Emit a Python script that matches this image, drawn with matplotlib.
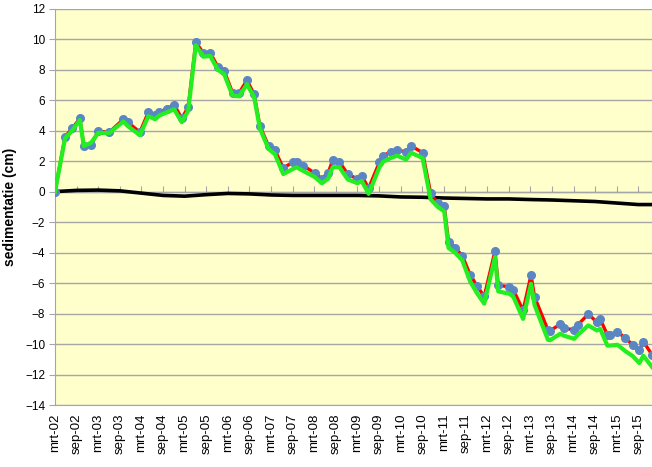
import numpy as np
import matplotlib
matplotlib.use('Agg')
import matplotlib.pyplot as plt

# maanden sinds mrt-02
maanden = [0, 2.8, 4.8, 6.9, 8.0, 10.0, 12.0, 15.1, 19.0, 20.2,
           23.6, 25.9, 27.8, 29.0, 31.1, 33.1, 35.2, 37.0, 39.1, 41.2,
           43.1, 45.2, 47.0, 49.3, 51.2, 53.3, 55.3, 56.9, 59.3, 61.1,
           63.4, 66.2, 67.1, 69.0, 72.2, 74.1, 75.9, 77.1, 79.0, 81.3,
           84.0, 85.2, 87.1, 90.1, 91.2, 93.2, 95.0, 97.5, 98.9, 102.1,
           104.3, 106.3, 108.1, 109.3, 111.1, 113.1, 115.3, 117.3, 119.2, 122.2,
           123.1, 126.2, 127.3, 130.0, 132.2, 133.2, 136.9, 137.5, 140.3, 141.3,
           144.2, 145.2, 148.1, 150.5, 151.4, 153.4, 154.2, 156.2, 158.3, 160.5,
           162.3, 163.4, 165.8]

sed_rood = [0.0, 3.6, 4.15, 4.8, 3.0, 3.05, 3.95, 3.9, 4.75, 4.55,
            3.9, 5.2, 5.0, 5.2, 5.45, 5.7, 4.8, 5.55, 9.8, 9.1,
            9.1, 8.2, 7.9, 6.5, 6.5, 7.3, 6.4, 4.3, 3.0, 2.7,
            1.55, 1.95, 1.95, 1.7, 1.2, 0.85, 1.25, 2.05, 1.95, 1.15,
            0.83, 1.03, 0.22, 1.93, 2.36, 2.6, 2.75, 2.58, 3.0, 2.55,
            -0.08, -0.78, -0.96, -3.3, -3.68, -4.2, -5.46, -6.22, -6.88, -3.9,
            -6.14, -6.25, -6.45, -7.8, -5.48, -6.92, -9.08, -9.13, -8.7, -8.96,
            -9.07, -8.74, -8.04, -8.56, -8.35, -9.4, -9.4, -9.18, -9.61, -10.05,
            -10.38, -9.84, -10.7]

sed_groen = [0.0, 3.5, 4.0, 4.7, 3.0, 3.2, 3.85, 3.85, 4.6, 4.3,
             3.7, 4.95, 4.75, 5.0, 5.2, 5.4, 4.55, 5.3, 9.6, 8.85,
             8.9, 8.0, 7.7, 6.3, 6.25, 7.05, 6.2, 4.15, 2.8, 2.45,
             1.15, 1.5, 1.6, 1.35, 0.95, 0.55, 0.85, 1.6, 1.6, 0.8,
             0.55, 0.7, -0.15, 1.6, 1.97, 2.2, 2.36, 2.1, 2.55, 2.2,
             -0.5, -1.0, -1.3, -3.7, -4.0, -4.5, -5.9, -6.7, -7.35, -4.3,
             -6.55, -6.7, -6.9, -8.35, -6.05, -7.45, -9.72, -9.75, -9.33, -9.45,
             -9.66, -9.4, -8.78, -9.11, -9.0, -10.1, -10.1, -10.05, -10.45, -10.8,
             -11.25, -10.77, -11.5]

maanden_zwart = [0, 6, 12, 18, 24, 30, 36, 42, 48, 54, 60, 66, 72, 78, 84,
                 90, 96, 102, 108, 114, 120, 126, 132, 138, 144, 150, 156, 162, 166]
sed_zwart = [0.0, 0.08, 0.1, 0.05, -0.1, -0.25, -0.3, -0.2, -0.12, -0.15,
             -0.22, -0.25, -0.25, -0.25, -0.25, -0.28, -0.35, -0.37, -0.42, -0.45,
             -0.48, -0.48, -0.52, -0.55, -0.6, -0.65, -0.75, -0.85, -0.85]

tick_labels = ['mrt-02', 'sep-02', 'mrt-03', 'sep-03', 'mrt-04', 'sep-04', 'mrt-05',
               'sep-05', 'mrt-06', 'sep-06', 'mrt-07', 'sep-07', 'mrt-08', 'sep-08',
               'mrt-09', 'sep-09', 'mrt-10', 'sep-10', 'mrt-11', 'sep-11', 'mrt-12',
               'sep-12', 'mrt-13', 'sep-13', 'mrt-14', 'sep-14', 'mrt-15', 'sep-15']
tick_pos = [6 * i for i in range(len(tick_labels))]

plt.rcParams['font.family'] = ['Liberation Sans', 'DejaVu Sans']

fig = plt.figure(figsize=(6.52, 4.67), dpi=100)
ax = fig.add_axes([55 / 652, 1 - 405 / 467, 1 - 55 / 652, (405 - 8.7) / 467])
ax.set_facecolor('#FFFFCC')

ax.set_ylim(-14, 12)
ax.set_xlim(0, 165.8)
ax.set_yticks(range(-14, 13, 2))
ax.yaxis.grid(True, color='#A6A6A6', linewidth=1)
ax.set_axisbelow(True)

# lijnen
ax.plot(maanden_zwart, sed_zwart, color='black', linewidth=2.6, zorder=2)
ax.plot(maanden, sed_rood, color='#FF0000', linewidth=2.4, marker='o',
        markersize=5.5, markerfacecolor='#5A86C4', markeredgecolor='#5A86C4', zorder=3)
ax.plot(maanden, sed_groen, color='#22EE22', linewidth=3.0, zorder=4)

for s in ['top', 'right']:
    ax.spines[s].set_visible(False)
ax.spines['left'].set_color('#A6A6A6')
ax.spines['bottom'].set_color('#A6A6A6')

ax.set_xticks(tick_pos)
ax.set_xticklabels(tick_labels, rotation=90, fontsize=9.5)
ax.tick_params(axis='x', length=0, pad=6)
ax.tick_params(axis='y', length=4, color='#A6A6A6', labelsize=8.5, pad=3)

# horizontale as door nul met tickmarks
sec = ax.secondary_xaxis(14 / 26)
sec.set_xticks(tick_pos)
sec.set_xticklabels([])
sec.tick_params(axis='x', length=4, color='#A6A6A6')
sec.spines['bottom'].set_color('#A6A6A6')

ax.set_ylabel('sedimentatie (cm)', fontsize=10, fontweight='bold', labelpad=6)

fig.savefig('out.png', dpi=100)
